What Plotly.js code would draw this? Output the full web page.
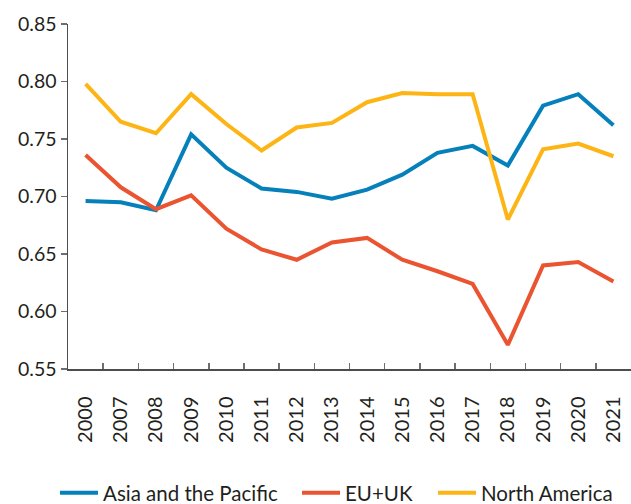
<!DOCTYPE html>
<html>
<head>
<meta charset="utf-8">
<script src="https://cdn.plot.ly/plotly-3.0.1.min.js"></script>
<style>html,body{margin:0;padding:0;background:#fff}#chart{width:631px;height:504px}</style>
</head>
<body>
<div id="chart"></div>
<script>
const years = ["2000","2007","2008","2009","2010","2011","2012","2013","2014","2015","2016","2017","2018","2019","2020","2021"];
const asiaPacific = [0.696,0.695,0.688,0.754,0.725,0.707,0.704,0.698,0.706,0.719,0.738,0.744,0.727,0.779,0.789,0.762];
const euUk = [0.736,0.708,0.689,0.701,0.672,0.654,0.645,0.660,0.664,0.645,0.635,0.624,0.571,0.640,0.643,0.626];
const northAmerica = [0.798,0.765,0.755,0.789,0.763,0.740,0.760,0.764,0.782,0.790,0.789,0.789,0.680,0.741,0.746,0.735];
const seriesNames = ["Asia and the Pacific","EU+UK","North America"];
const yTicks = [0.55,0.60,0.65,0.70,0.75,0.80,0.85];

const colors = ["#0580BB","#EA5430","#FDB515"];
const legendIds = ["legend","legend2","legend3"];
const data = [asiaPacific, euUk, northAmerica].map((vals, i) => ({
  type: "scatter", mode: "lines", x: years, y: vals, name: seriesNames[i], legend: legendIds[i],
  line: {color: colors[i], width: 4, shape: "linear"}, hoverinfo: "skip"
}));

const fontFam = "Lato, 'Open Sans', sans-serif";
const legendBase = (xpx) => ({orientation: "h", xref: "container", yref: "container", x: xpx / 631, xanchor: "left",
           y: 0.022, yanchor: "middle", bgcolor: "rgba(0,0,0,0)",
           font: {family: fontFam, size: 20.5, color: "#231F20"}, itemwidth: 38});
const layout = {
  width: 631, height: 504,
  margin: {l: 68, r: 0, t: 24, b: 135, pad: 0},
  paper_bgcolor: "#fff", plot_bgcolor: "#fff",
  font: {family: fontFam, size: 20, color: "#231F20"},
  showlegend: true,
  legend: legendBase(55),
  legend2: legendBase(297),
  legend3: legendBase(433),
  xaxis: {type: "category", tickangle: -90, showgrid: false, zeroline: false,
          showline: true, linecolor: "#4D4D4F", linewidth: 1.5,
          ticks: "inside", tickson: "boundaries", ticklen: 6, tickcolor: "#6D6E71", tickwidth: 1.5,
          tickfont: {family: fontFam, size: 20, color: "#231F20"}, ticklabelstandoff: 18,
          range: [-0.5, 15.5]},
  yaxis: {range: [0.55, 0.85], tickvals: yTicks, ticktext: yTicks.map(v => v.toFixed(2)),
          showgrid: false, zeroline: false, showline: true, linecolor: "#4D4D4F", linewidth: 1.5,
          ticks: "outside", ticklen: 6, tickcolor: "#6D6E71", tickwidth: 1.5,
          tickfont: {family: fontFam, size: 19.5, color: "#231F20"}}
};
Plotly.newPlot("chart", data, layout, {staticPlot: true, displayModeBar: false});
</script>
</body>
</html>
